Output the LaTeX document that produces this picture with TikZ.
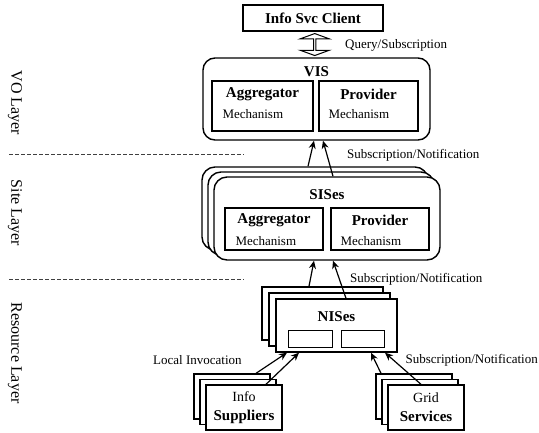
\documentclass[tikz,border=0pt]{standalone}
\usepackage{fontspec}
\setmainfont{Liberation Serif}
\usepackage{tikz}
\usetikzlibrary{positioning, arrows.meta, calc, shapes.arrows}
\tikzset{
    plainbox/.style={draw=black, fill=white, line width=1.4pt, inner sep=0pt},
    roundbox/.style={plainbox, rounded corners=12pt, minimum width=227pt, minimum height=82pt},
    sisbox/.style={plainbox, rounded corners=13pt, minimum width=226pt, minimum height=83pt},
    nisbox/.style={plainbox, minimum width=121pt, minimum height=53pt},
    srcbox/.style={plainbox, minimum width=76pt, minimum height=45pt, align=center, font=\fontsize{14}{19}\selectfont},
    mechbox/.style={draw=black, line width=1.4pt, inner sep=0pt},
    slot/.style={draw=black, line width=1pt, minimum width=44pt, minimum height=17pt, inner sep=0pt},
    boldtxt/.style={font=\fontsize{15}{18}\selectfont\bfseries, inner sep=0pt},
    lbl/.style={font=\fontsize{13}{15}\selectfont, inner sep=0pt},
    layertxt/.style={font=\fontsize{16}{18}\selectfont, rotate=-90, inner sep=0pt},
    link/.style={->, line width=1.2pt},
    divider/.style={draw=black!75, line width=0.6pt, dash pattern=on 4pt off 2pt}
}
\begin{document}
\begin{tikzpicture}[x=1pt, y=1pt, >={Stealth[length=8pt, width=7pt]}]
  \clip (0,0) rectangle (539,-432);

  \node[plainbox, line width=1.6pt, minimum width=140pt, minimum height=26pt, boldtxt] (client) at (313,-18) {Info Svc Client};

  % VO layer
  \node[roundbox] (vis) at (316.5,-99) {};
  \node[boldtxt] (vist) at ([yshift=-14pt]vis.north) {VIS};
  \node[mechbox, minimum width=101pt, minimum height=50pt] (visagg) at (262.5,-106) {};
  \node[mechbox, minimum width=99pt, minimum height=50pt] (visprov) at (368.5,-106) {};
  \node[boldtxt] (visaggt) at ([yshift=-14pt]visagg.north) {Aggregator};
  \node[boldtxt] (visprovt) at ([yshift=-14pt]visprov.north) {Provider};
  \node[lbl, anchor=west] (visaggm) at ([xshift=11pt, yshift=-34pt]visagg.north west) {Mechanism};
  \node[lbl, anchor=west] (visprovm) at ([xshift=10pt, yshift=-34pt]visprov.north west) {Mechanism};

  \node[double arrow, draw=black, line width=1pt, rotate=90, minimum height=22pt, minimum width=29pt,
        double arrow head extend=6.5pt, double arrow tip angle=140, inner sep=0pt]
        (qs) at ($(client.south)!0.5!(vis.north)$) {};
  \node[lbl, anchor=west] (qtxt) at (345,-45) {Query/Subscription};

  % Site layer
  \node[sisbox] (sis3) at (315,-208.5) {};
  \node[sisbox] (sis2) at (321,-213.5) {};
  \node[sisbox] (sis1) at (327,-218.5) {};
  \node[boldtxt] (sist) at ([yshift=-18pt]sis1.north) {SISes};
  \node[mechbox, minimum width=98pt, minimum height=42pt] (sisagg) at (274,-229) {};
  \node[mechbox, minimum width=98pt, minimum height=42pt] (sisprov) at (380,-229) {};
  \node[boldtxt] (sisaggt) at ([yshift=-13pt]sisagg.north) {Aggregator};
  \node[boldtxt] (sisprovt) at ([yshift=-13pt]sisprov.north) {Provider};
  \node[lbl, anchor=west] (sisaggm) at ([xshift=11pt, yshift=-34pt]sisagg.north west) {Mechanism};
  \node[lbl, anchor=west] (sisprovm) at ([xshift=10pt, yshift=-34pt]sisprov.north west) {Mechanism};

  \draw[link] ([xshift=-7pt]sis3.north) -- ([xshift=-2.5pt]vis.south);
  \draw[link] ([xshift=6pt]sis1.north) -- ([xshift=6.5pt]vis.south);
  \node[lbl, anchor=west] (subA) at (347,-155) {Subscription/Notification};

  % Resource layer
  \node[nisbox] (nis3) at (322.5,-313.5) {};
  \node[nisbox] (nis2) at (329.5,-319.5) {};
  \node[nisbox] (nis1) at (336.5,-325.5) {};
  \node[boldtxt] (nist) at ([yshift=-18pt]nis1.north) {NISes};
  \node[slot] (slotA) at (310,-338.5) {};
  \node[slot, minimum width=43pt] (slotB) at (362.5,-338.5) {};

  \draw[link] ([xshift=-13.5pt]nis3.north) -- ([xshift=-13pt]sis1.south);
  \draw[link] ([xshift=9.5pt]nis1.north) -- ([xshift=6pt]sis1.south);
  \node[lbl, anchor=west] (subB) at (350,-279) {Subscription/Notification};

  \node[srcbox] (info3) at (232,-396.5) {};
  \node[srcbox] (info2) at (238,-402) {};
  \node[srcbox] (info1) at (244,-407.5) {Info\\{\fontsize{15}{19}\selectfont\bfseries Suppliers}};
  \node[srcbox] (grid3) at (414,-396.5) {};
  \node[srcbox] (grid2) at (420,-402) {};
  \node[srcbox] (grid1) at (426,-407.5) {Grid\\{\fontsize{15}{19}\selectfont\bfseries Services}};

  \draw[link] ([xshift=24pt]info3.north) -- ([xshift=-49.5pt]nis1.south);
  \draw[link] ([xshift=22pt]info1.north) -- ([xshift=-37.5pt]nis1.south);
  \draw[link] ([xshift=-33pt]grid3.north) -- ([xshift=34.5pt]nis1.south);
  \draw[link] ([xshift=-5pt]grid1.north) -- ([xshift=48.5pt]nis1.south);
  \node[lbl, anchor=west] (loc) at (153,-360) {Local Invocation};
  \node[lbl, anchor=east] (subC) at (538,-360) {Subscription/Notification};

  % layers
  \draw[divider] (9,-154) -- (244,-154);
  \draw[divider] (9,-279) -- (244,-279);
  \node[layertxt] (vo) at (15,-103) {VO Layer};
  \node[layertxt] (site) at (15,-213) {Site Layer};
  \node[layertxt] (res) at (15,-353) {Resource Layer};
\end{tikzpicture}
\end{document}
